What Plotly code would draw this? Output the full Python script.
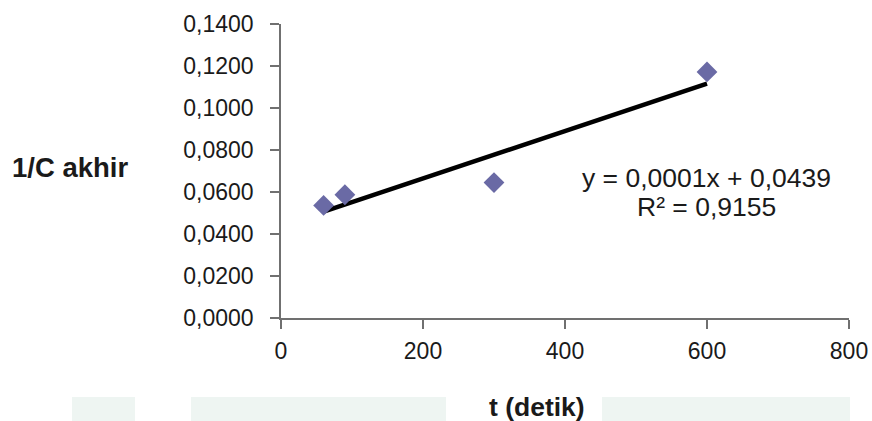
import numpy as np
import plotly.graph_objects as go

# Measurements: time (s) vs reciprocal of final concentration
t_detik = [60, 90, 300, 600]
inv_c_akhir = [0.0536, 0.0587, 0.0645, 0.1172]
r_squared = 0.9155

x_ticks = [0, 200, 400, 600, 800]
y_ticks = [0.0, 0.02, 0.04, 0.06, 0.08, 0.10, 0.12, 0.14]

# Linear trendline over the measured range
slope, intercept = np.polyfit(t_detik, inv_c_akhir, 1)
x_fit = np.array([min(t_detik), max(t_detik)])
y_fit = slope * x_fit + intercept


def dec(v, n=4):
    return f"{v:.{n}f}".replace(".", ",")


W, H = 872, 421
L, R, T, B = 281, 23, 24, 103
FONT = "Liberation Sans, Arial, sans-serif"

fig = go.Figure()

fig.add_trace(go.Scatter(
    x=x_fit, y=y_fit, mode="lines",
    line=dict(color="#000000", width=4.5),
    hoverinfo="skip", showlegend=False,
))
fig.add_trace(go.Scatter(
    x=t_detik, y=inv_c_akhir, mode="markers",
    marker=dict(symbol="diamond", size=16, color="#6a6aa5",
                line=dict(width=0)),
    showlegend=False,
))

axis_common = dict(
    showline=True, linecolor="#707070", linewidth=1.5,
    ticks="outside", tickcolor="#707070", tickwidth=1.5, ticklen=9,
    showgrid=False, zeroline=False, automargin=False,
    tickfont=dict(family=FONT, size=23, color="#1a1a1a"),
)

fig.update_xaxes(range=[0, 800], tickvals=x_ticks,
                 ticktext=[str(v) for v in x_ticks],
                 ticklabelstandoff=3, **axis_common)
fig.update_yaxes(range=[0, 0.14], tickvals=y_ticks,
                 ticktext=[dec(v) for v in y_ticks],
                 ticklabelstandoff=12, **axis_common)

pw, ph = W - L - R, H - T - B


def px(xp):
    return (xp - L) / pw


def py(yp):
    return (H - B - yp) / ph


annotations = [
    dict(text="<b>1/C akhir</b>", x=px(70), y=py(167), size=27.5),
    dict(text="<b>t (detik)</b>", x=px(537), y=py(407), size=26.5),
    dict(text=f"y = {dec(slope)}x + {dec(intercept)}", x=px(706), y=py(178), size=26.5),
    dict(text=f"R² = {dec(r_squared)}", x=px(706), y=py(207), size=26.5),
]
for a in annotations:
    size = a.pop("size")
    a.update(xref="paper", yref="paper", showarrow=False,
             xanchor="center", yanchor="middle",
             font=dict(family=FONT, size=size, color="#1a1a1a"))

# Pale band along the lower edge of the page
bands = [(72, 135), (191, 446), (602, 850)]
shapes = [
    dict(type="rect", xref="paper", yref="paper",
         x0=px(a), x1=px(b), y0=py(397), y1=py(421),
         fillcolor="#eef5f2", line=dict(width=0), layer="below")
    for a, b in bands
]

fig.update_layout(
    width=W, height=H,
    margin=dict(l=L, r=R, t=T, b=B, autoexpand=False),
    paper_bgcolor="#ffffff", plot_bgcolor="rgba(0,0,0,0)",
    annotations=annotations, shapes=shapes,
    font=dict(family=FONT),
)

fig.write_html("out.html")
